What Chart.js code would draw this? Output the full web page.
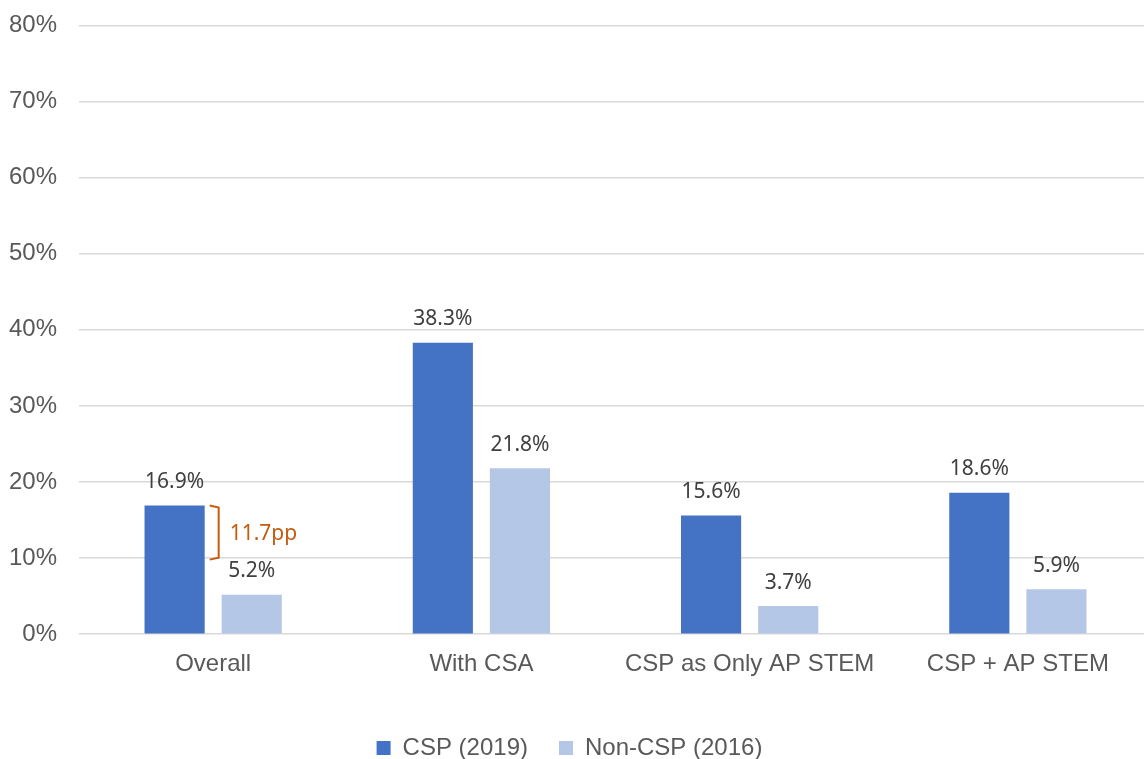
<!DOCTYPE html>
<html>
<head>
<meta charset="utf-8">
<script src="https://cdn.jsdelivr.net/npm/chart.js@4/dist/chart.umd.min.js"></script>
<style>
  html, body { margin: 0; padding: 0; background: #fff; overflow: hidden; }
  #wrap { width: 1144px; height: 759px; overflow: hidden; position: relative; }
  #box { width: 1152px; height: 770px; position: absolute; left: 0; top: -11px; }
</style>
</head>
<body>
<div id="wrap"><div id="box"><canvas id="grafica"></canvas></div></div>
<script>
const categorias = ['Overall', 'With CSA', 'CSP as Only AP STEM', 'CSP + AP STEM'];
const csp2019 = [16.9, 38.3, 15.6, 18.6];
const noCsp2016 = [5.2, 21.8, 3.7, 5.9];
const ticksY = [0, 10, 20, 30, 40, 50, 60, 70, 80];
// brecha marcada en la primera categoria
const brecha = { texto: '11.7pp', desde: 16.9, hasta: 9.8 };

const etiquetas = {
  id: 'etiquetas',
  afterDatasetsDraw(chart) {
    const ctx = chart.ctx;
    ctx.save();
    ctx.font = '21px "Noto Sans", sans-serif';
    ctx.fillStyle = '#404040';
    ctx.textAlign = 'center';
    ctx.textBaseline = 'bottom';
    chart.data.datasets.forEach((ds, i) => {
      chart.getDatasetMeta(i).data.forEach((bar, j) => {
        ctx.fillText(ds.data[j].toFixed(1) + '%', bar.x, bar.y - 13);
      });
    });
    // corchete naranja
    const y = chart.scales.y;
    const b0 = chart.getDatasetMeta(0).data[0];
    const x0 = b0.x + b0.width / 2 + 5;
    const y1 = y.getPixelForValue(brecha.desde);
    const y2 = y.getPixelForValue(brecha.hasta);
    ctx.strokeStyle = '#C55A11';
    ctx.lineWidth = 2;
    ctx.beginPath();
    ctx.moveTo(x0, y1);
    ctx.lineTo(x0 + 9, y1 + 2);
    ctx.lineTo(x0 + 9, y2 - 2);
    ctx.lineTo(x0, y2);
    ctx.stroke();
    ctx.fillStyle = '#C55A11';
    ctx.textAlign = 'left';
    ctx.textBaseline = 'middle';
    ctx.fillText(brecha.texto, x0 + 20, (y1 + y2) / 2 + 1);
    ctx.restore();
  }
};

const fuente = { size: 24, family: '"Liberation Sans", Arial, sans-serif' };

const ctx = document.getElementById('grafica').getContext('2d');
const myChart = new Chart(ctx, {
  type: 'bar',
  data: {
    labels: categorias,
    datasets: [{
      label: 'CSP (2019)',
      data: csp2019,
      backgroundColor: '#4472C4',
      categoryPercentage: 0.575,
      barPercentage: 0.78
    }, {
      label: 'Non-CSP (2016)',
      data: noCsp2016,
      backgroundColor: '#B4C7E7',
      categoryPercentage: 0.575,
      barPercentage: 0.78
    }]
  },
  options: {
    responsive: true,
    maintainAspectRatio: false,
    animation: false,
    layout: { padding: { left: -13, top: 0, right: 0, bottom: -11 } },
    scales: {
      x: {
        grid: { display: false },
        border: { display: false },
        ticks: { color: '#595959', font: fuente, padding: 8 },
        afterFit(axis) { axis.height += 18; }
      },
      y: {
        min: 0,
        max: 80,
        afterBuildTicks(axis) { axis.ticks = ticksY.map(v => ({ value: v })); },
        grid: { color: '#D9D9D9', lineWidth: 1.5, drawTicks: false },
        border: { display: false },
        ticks: {
          color: '#595959',
          font: fuente,
          padding: 22,
          callback: v => v + '%'
        }
      }
    },
    plugins: {
      legend: {
        position: 'bottom',
        labels: {
          color: '#595959',
          font: fuente,
          boxWidth: 14,
          boxHeight: 14,
          padding: 31
        }
      },
      tooltip: { enabled: false }
    }
  },
  plugins: [etiquetas]
});
</script>
</body>
</html>
